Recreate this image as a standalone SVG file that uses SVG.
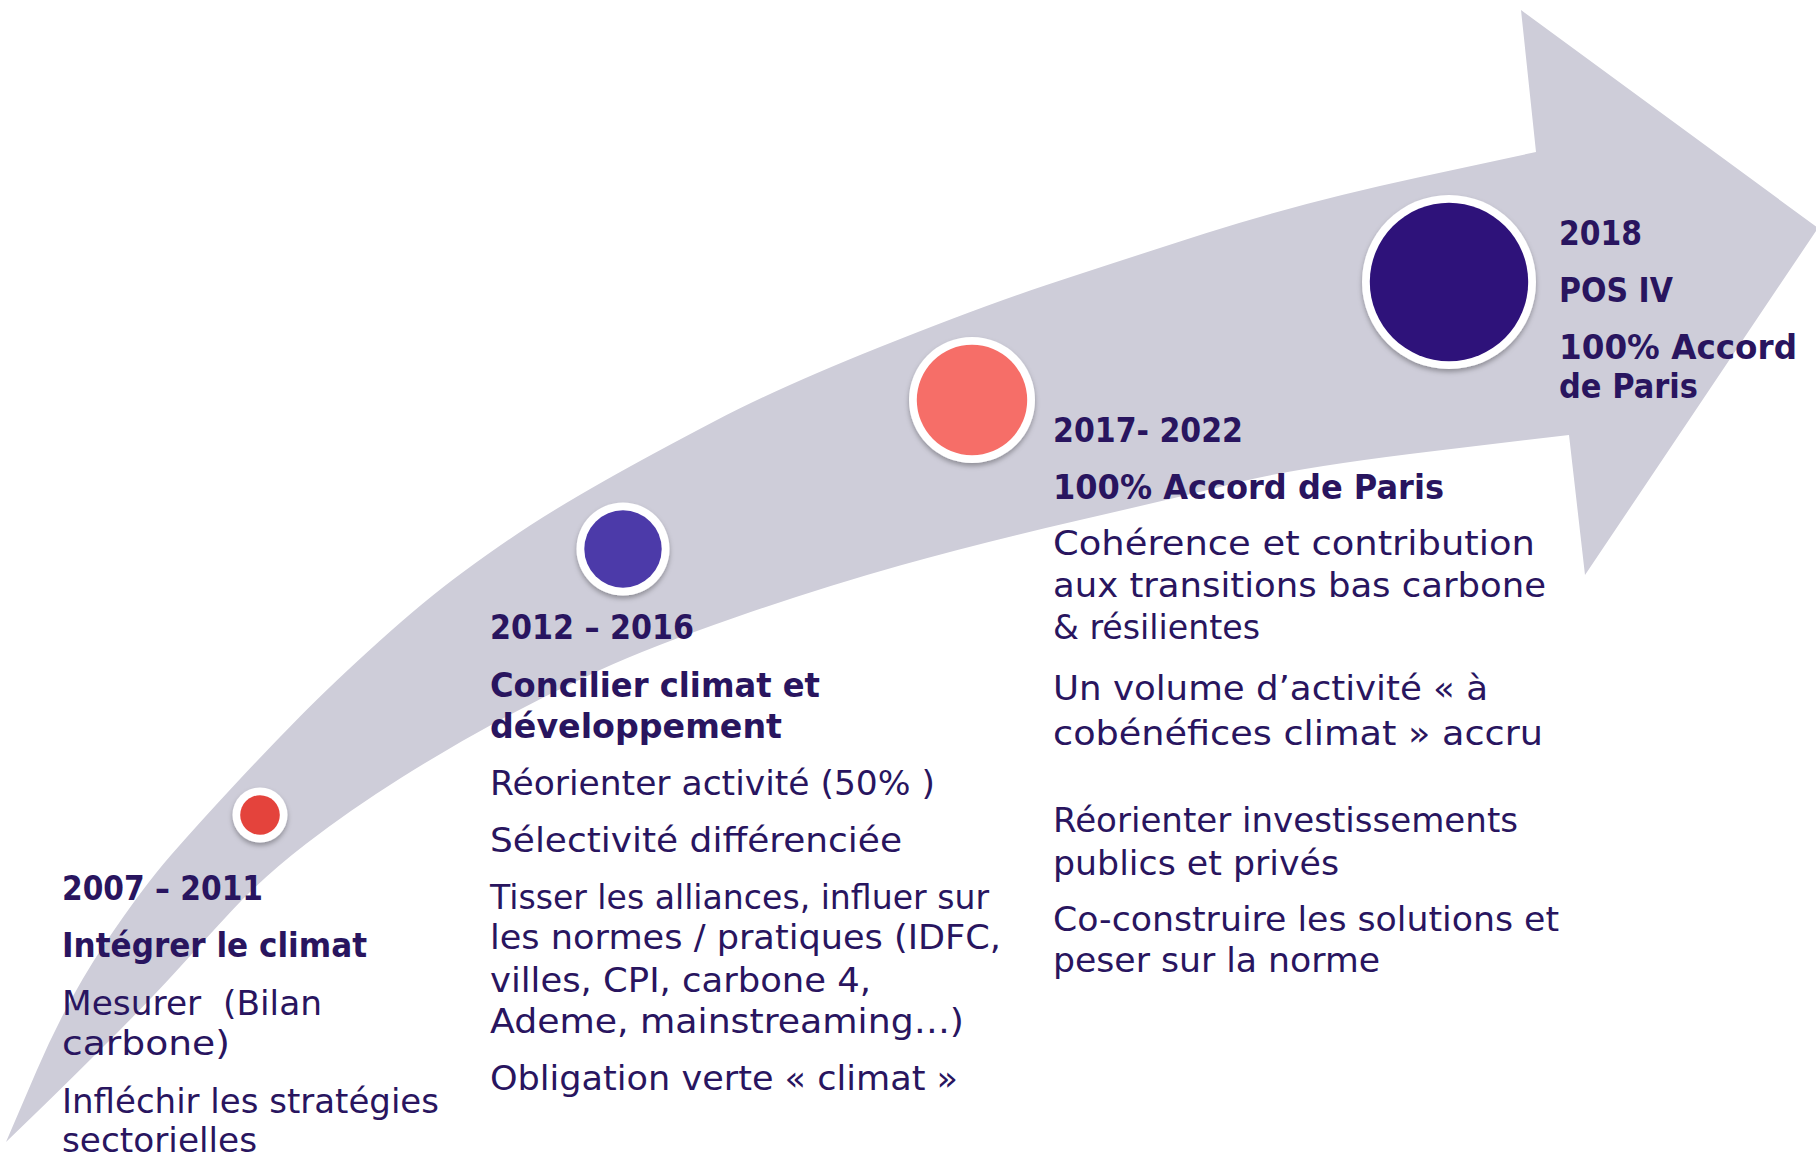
<svg xmlns="http://www.w3.org/2000/svg" width="1816" height="1157" viewBox="0 0 1816 1157">
<style>
text{font-family:"DejaVu Sans","Liberation Sans",sans-serif;fill:#29155f}
.b{font-weight:bold;font-size:33px}
.r{font-size:34.5px}
.ring{fill:#ffffff;filter:url(#sh)}
</style>
<defs>
<filter id="sh" x="-30%" y="-30%" width="160%" height="170%">
<feDropShadow dx="0" dy="3" stdDeviation="2.5" flood-color="#000" flood-opacity="0.3"/>
</filter>
</defs>
<rect width="1816" height="1157" fill="#ffffff"/>
<g id="connectors">
<path id="arrow" fill="#cecdd9" d="M6,1142 L36.5,1071 Q67,1000 105,943.5 Q143,887 171.5,854.5 Q200,822 233.5,786 Q267,750 300,716.5 Q333,683 379,641.5 Q425,600 462.5,572.5 Q500,545 530,525.5 Q560,506 605,480.5 Q650,455 715,421 Q780,387 880,347 Q980,307 1046.5,285 Q1113,263 1206.5,233 Q1300,203 1418,177.5 L1536,152 L1521,10 L1818,228 L1585,575 L1569,435 L1434.5,451 Q1300,467 1240,482 Q1180,497 1080,520 Q980,543 900,565.5 Q820,588 735,617.5 Q650,647 600,670 Q550,693 500,720 Q450,747 400,778.5 Q350,810 306.5,843.5 Q263,877 231.5,911 Q200,945 175,972.5 Q150,1000 108.5,1041.5 Q67,1083 36.5,1112.5 L6,1142 Z"/>
</g>
<g id="node-2007">
<circle class="ring" cx="260" cy="815" r="27.5"/>
<circle cx="260" cy="815" r="19.8" fill="#e4433c"/>
<text class="b" x="62" y="900" textLength="201" lengthAdjust="spacingAndGlyphs">2007 – 2011</text>
<text class="b" x="62" y="957" textLength="305" lengthAdjust="spacingAndGlyphs">Intégrer le climat</text>
<text class="r" x="62" y="1015" textLength="260" lengthAdjust="spacingAndGlyphs">Mesurer&#160; (Bilan</text>
<text class="r" x="62" y="1055" textLength="168" lengthAdjust="spacingAndGlyphs">carbone)</text>
<text class="r" x="62" y="1113" textLength="377" lengthAdjust="spacingAndGlyphs">Infléchir les stratégies</text>
<text class="r" x="62" y="1152" textLength="195" lengthAdjust="spacingAndGlyphs">sectorielles</text>
</g>
<g id="node-2012">
<circle class="ring" cx="623" cy="549" r="46.5"/>
<circle cx="623" cy="549" r="38.7" fill="#4c3aa9"/>
<text class="b" x="490" y="639" textLength="204" lengthAdjust="spacingAndGlyphs">2012 – 2016</text>
<text class="b" x="490" y="697" textLength="330" lengthAdjust="spacingAndGlyphs">Concilier climat et</text>
<text class="b" x="490" y="738" textLength="292" lengthAdjust="spacingAndGlyphs">développement</text>
<text class="r" x="490" y="795" textLength="445" lengthAdjust="spacingAndGlyphs">Réorienter activité (50% )</text>
<text class="r" x="490" y="852" textLength="412" lengthAdjust="spacingAndGlyphs">Sélectivité différenciée</text>
<text class="r" x="490" y="909" textLength="499" lengthAdjust="spacingAndGlyphs">Tisser les alliances, influer sur</text>
<text class="r" x="490" y="949" textLength="511" lengthAdjust="spacingAndGlyphs">les normes / pratiques (IDFC,</text>
<text class="r" x="490" y="992" textLength="381" lengthAdjust="spacingAndGlyphs">villes, CPI, carbone 4,</text>
<text class="r" x="490" y="1033" textLength="474" lengthAdjust="spacingAndGlyphs">Ademe, mainstreaming…)</text>
<text class="r" x="490" y="1090" textLength="468" lengthAdjust="spacingAndGlyphs">Obligation verte « climat »</text>
</g>
<g id="node-2017">
<circle class="ring" cx="972" cy="400" r="63"/>
<circle cx="972" cy="400" r="55.2" fill="#f66e68"/>
<text class="b" x="1053" y="442" textLength="190" lengthAdjust="spacingAndGlyphs">2017- 2022</text>
<text class="b" x="1053" y="499" textLength="391" lengthAdjust="spacingAndGlyphs">100% Accord de Paris</text>
<text class="r" x="1053" y="555" textLength="482" lengthAdjust="spacingAndGlyphs">Cohérence et contribution</text>
<text class="r" x="1053" y="597" textLength="493" lengthAdjust="spacingAndGlyphs">aux transitions bas carbone</text>
<text class="r" x="1053" y="639" textLength="207" lengthAdjust="spacingAndGlyphs">&amp; résilientes</text>
<text class="r" x="1053" y="700" textLength="435" lengthAdjust="spacingAndGlyphs">Un volume d’activité « à</text>
<text class="r" x="1053" y="745" textLength="490" lengthAdjust="spacingAndGlyphs">cobénéfices climat » accru</text>
<text class="r" x="1053" y="832" textLength="465" lengthAdjust="spacingAndGlyphs">Réorienter investissements</text>
<text class="r" x="1053" y="875" textLength="286" lengthAdjust="spacingAndGlyphs">publics et privés</text>
<text class="r" x="1053" y="931" textLength="506" lengthAdjust="spacingAndGlyphs">Co-construire les solutions et</text>
<text class="r" x="1053" y="972" textLength="327" lengthAdjust="spacingAndGlyphs">peser sur la norme</text>
</g>
<g id="node-2018">
<circle class="ring" cx="1449" cy="282" r="87"/>
<circle cx="1449" cy="282" r="79.2" fill="#2e127a"/>
<text class="b" x="1559" y="245" textLength="83" lengthAdjust="spacingAndGlyphs">2018</text>
<text class="b" x="1559" y="302" textLength="114" lengthAdjust="spacingAndGlyphs">POS IV</text>
<text class="b" x="1559" y="359" textLength="238" lengthAdjust="spacingAndGlyphs">100% Accord</text>
<text class="b" x="1559" y="398" textLength="139" lengthAdjust="spacingAndGlyphs">de Paris</text>
</g>
</svg>
